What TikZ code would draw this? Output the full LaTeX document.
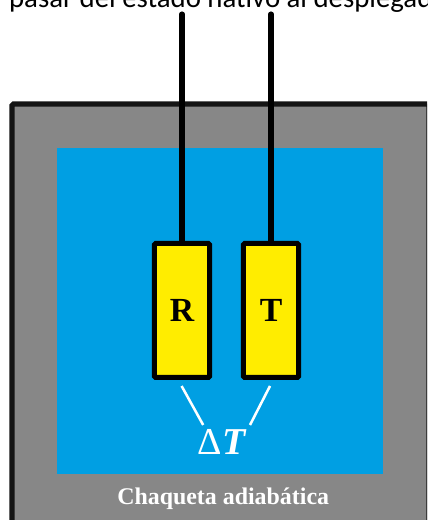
\documentclass[tikz,border=0pt]{standalone}
\usepackage{fontspec}
\setmainfont{Liberation Serif}
\newfontfamily\topfont{Carlito}
\definecolor{jacketgray}{HTML}{878787}
\definecolor{bathblue}{HTML}{009FE3}
\definecolor{cellyellow}{HTML}{FFED00}
\definecolor{edgeblack}{HTML}{141414}
\tikzstyle{jacket} = [draw = edgeblack, fill = jacketgray, line width = 3.6pt, rounded corners = 1pt]
\tikzstyle{cell} = [draw, fill = cellyellow, minimum height = 3.35cm, minimum width = 1.385cm, line width = 3.6pt, rounded corners = 1pt, inner sep = 0pt, font = \bfseries\fontsize{24}{24}\selectfont]
\tikzstyle{wire} = [line width = 3.6pt, line cap = round]
\tikzstyle{mark line} = [white, line width = 1.8pt]
\begin{document}
\begin{tikzpicture}
	\useasboundingbox (0, 0) rectangle (10.675, 13.0);
	\clip (0, 0) rectangle (10.675, 13.0);

	\node [anchor = base west, inner sep = 0pt, font = \topfont\fontsize{20.5}{20.5}\selectfont] at (0.22, 12.8) (title) {pasar del estado nativo al desplegado};

	\draw [jacket] (0.3, -1) rectangle (10.72, 10.4);
	\fill [bathblue] (1.425, 1.15) rectangle (9.575, 9.3);

	\node [cell] at (4.55, 5.24) (R) {R};
	\node [cell] at (6.775, 5.24) (T) {T};

	\coordinate (Rtop) at (4.55, 12.65);
	\coordinate (Ttop) at (6.775, 12.65);
	\draw [wire] (Rtop) -- (R.north);
	\draw [wire] (Ttop) -- (T.north);

	\node [white, inner sep = 0pt, font = \bfseries\fontsize{27}{27}\selectfont] at (5.56, 1.96) (dT) {{\mdseries Δ}\textit{T}};
	\coordinate (Rfoot) at (4.54, 3.35);
	\coordinate (Tfoot) at (6.75, 3.35);
	\coordinate (dTleft) at (5.08, 2.375);
	\coordinate (dTright) at (6.25, 2.375);
	\draw [mark line] (Rfoot) -- (dTleft);
	\draw [mark line] (Tfoot) -- (dTright);

	\node [white, font = \bfseries\fontsize{17}{17}\selectfont] at (5.58, 0.52) (label) {Chaqueta adiabática};
\end{tikzpicture}
\end{document}
